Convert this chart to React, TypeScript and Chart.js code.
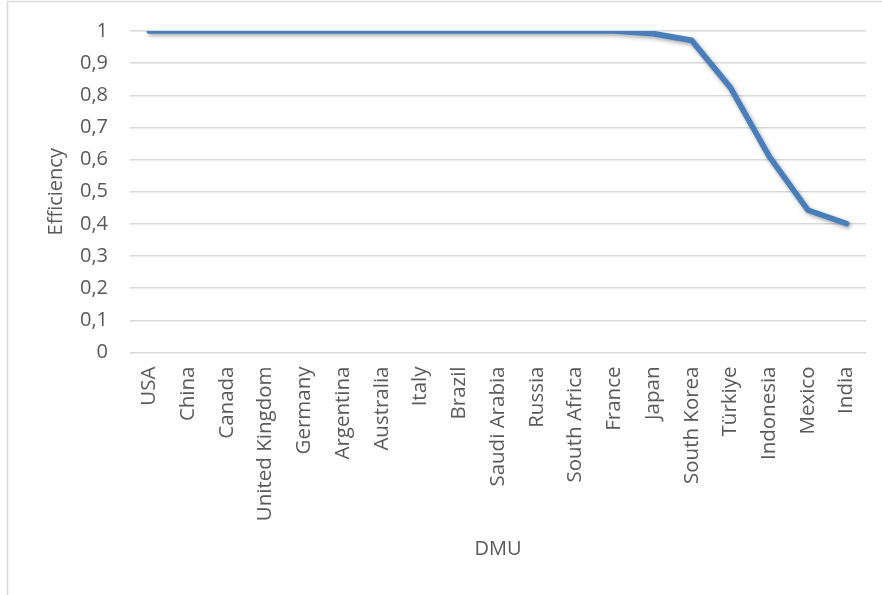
import React, { useEffect, useRef } from "react";
import { Chart, registerables } from "chart.js";

Chart.register(...registerables);

// Decision-making units along the horizontal axis
const dmuLabels: string[] = [
  "USA",
  "China",
  "Canada",
  "United Kingdom",
  "Germany",
  "Argentina",
  "Australia",
  "Italy",
  "Brazil",
  "Saudi Arabia",
  "Russia",
  "South Africa",
  "France",
  "Japan",
  "South Korea",
  "Türkiye",
  "Indonesia",
  "Mexico",
  "India",
];

// Efficiency score of each DMU
const efficiencyValues: number[] = [
  1, 1, 1, 1, 1, 1, 1, 1, 1, 1, 1, 1, 1, 0.992, 0.971, 0.824, 0.61, 0.443, 0.401,
];

// Y-axis tick texts (decimal comma), from 0 to 1
const yTickLabels: string[] = ["0", "0,1", "0,2", "0,3", "0,4", "0,5", "0,6", "0,7", "0,8", "0,9", "1"];

const FONT = "'Open Sans', 'DejaVu Sans', sans-serif";
const TEXT_COLOR = "#595959";
const GRID_COLOR = "#d9d9d9";
const LINE_COLOR = "#4a7ebb";

// Outer chart frame (left and top edges of the chart box)
const framePlugin = {
  id: "frame",
  beforeDraw(chart: Chart) {
    const { ctx, width, height } = chart;
    ctx.save();
    ctx.strokeStyle = GRID_COLOR;
    ctx.lineWidth = 1.5;
    ctx.beginPath();
    ctx.moveTo(7.5, height);
    ctx.lineTo(7.5, 1.5);
    ctx.lineTo(width, 1.5);
    ctx.stroke();
    ctx.restore();
  },
};

// Soft drop shadow under the line series
const shadowPlugin = {
  id: "lineShadow",
  beforeDatasetDraw(chart: Chart) {
    const ctx = chart.ctx;
    ctx.save();
    ctx.shadowColor = "rgba(0,0,0,0.35)";
    ctx.shadowBlur = 4;
    ctx.shadowOffsetX = 1.5;
    ctx.shadowOffsetY = 2;
  },
  afterDatasetDraw(chart: Chart) {
    chart.ctx.restore();
  },
};

// Drop the automatic label overhang padding so the plot box keeps a fixed size
function clearScalePadding(scale: any) {
  scale.paddingLeft = 0;
  scale.paddingRight = 0;
  scale.paddingTop = 0;
  scale.paddingBottom = 0;
}

export default function App() {
  const canvasRef = useRef<HTMLCanvasElement | null>(null);

  useEffect(() => {
    if (!canvasRef.current) return;
    const chart = new Chart(canvasRef.current, {
      type: "line",
      data: {
        labels: dmuLabels,
        datasets: [
          {
            data: efficiencyValues,
            borderColor: LINE_COLOR,
            backgroundColor: LINE_COLOR,
            borderWidth: 5.7,
            borderCapStyle: "round",
            borderJoinStyle: "round",
            pointRadius: 0,
            pointHoverRadius: 0,
            tension: 0,
            fill: false,
          },
        ],
      },
      options: {
        responsive: false,
        animation: false,
        layout: { padding: { top: 31, right: 16, bottom: 0, left: 0 } },
        plugins: {
          legend: { display: false },
          tooltip: { enabled: false },
        },
        scales: {
          x: {
            offset: true,
            grid: { display: false, drawTicks: false },
            border: { display: false },
            ticks: {
              color: TEXT_COLOR,
              font: { family: FONT, size: 20.5 },
              minRotation: 90,
              maxRotation: 90,
              autoSkip: false,
              padding: 14,
            },
            title: {
              display: true,
              text: "DMU",
              color: TEXT_COLOR,
              font: { family: FONT, size: 20 },
              padding: { top: 0, bottom: 34 },
            },
            afterFit(scale: any) {
              scale.height = 242.5;
              clearScalePadding(scale);
            },
          },
          y: {
            min: 0,
            max: 1,
            grid: { color: GRID_COLOR, lineWidth: 1.5, drawTicks: false },
            border: { display: false },
            ticks: {
              stepSize: 0.1,
              color: TEXT_COLOR,
              font: { family: FONT, size: 20 },
              padding: 22,
              callback: (_v: any, i: number) => yTickLabels[i],
            },
            title: {
              display: true,
              text: "Efficiency",
              color: TEXT_COLOR,
              font: { family: FONT, size: 20 },
              padding: { top: 44, bottom: 0 },
            },
            afterFit(scale: any) {
              scale.width = 130;
              clearScalePadding(scale);
            },
          },
        },
      },
      plugins: [framePlugin, shadowPlugin],
    });
    return () => chart.destroy();
  }, []);

  return (
    <div style={{ position: "fixed", left: 0, top: 0, width: 882, height: 595, background: "#ffffff" }}>
      <canvas ref={canvasRef} width={882} height={595} style={{ display: "block" }} />
    </div>
  );
}
